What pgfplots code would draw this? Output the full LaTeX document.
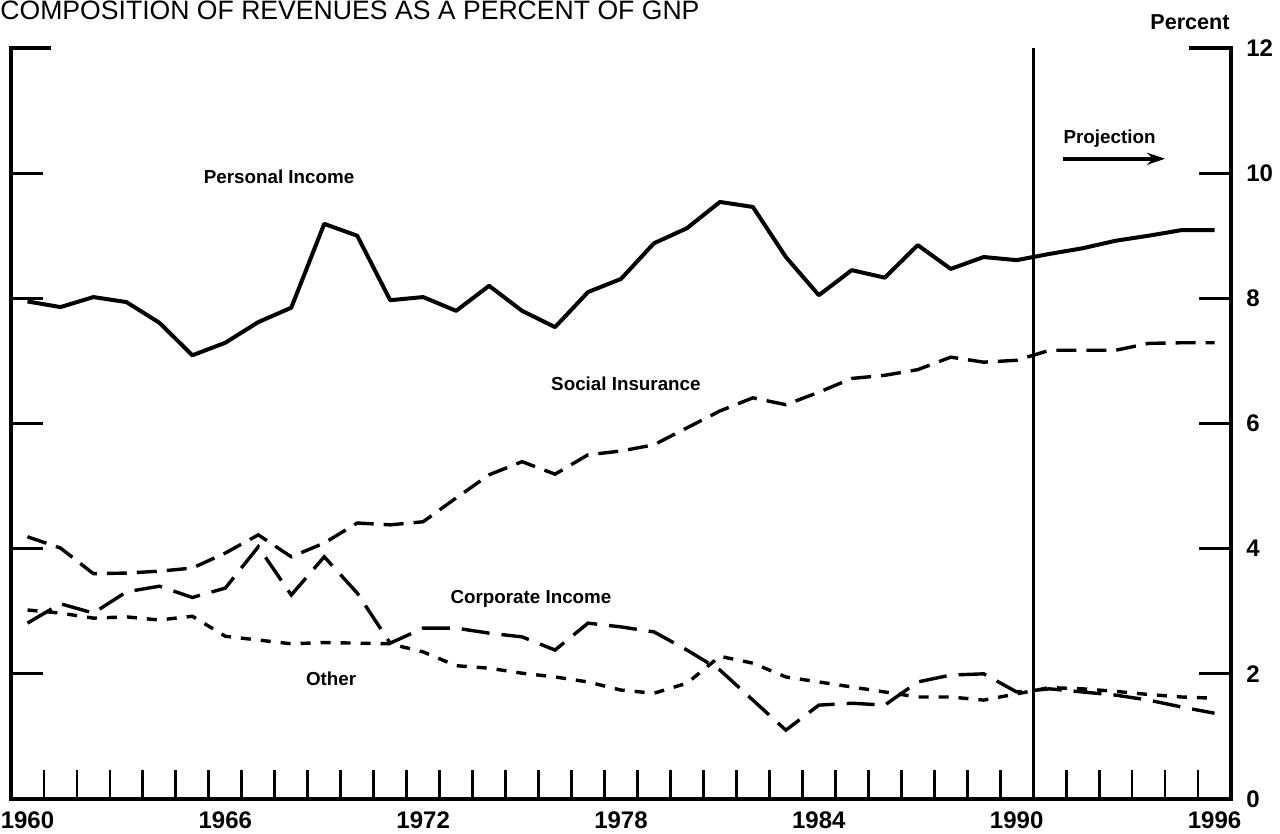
\documentclass[border=0pt]{standalone}
\usepackage{fontspec}
\setmainfont{Liberation Sans}
\usepackage{pgfplots}
\usepackage{pgfplotstable}
\pgfplotsset{compat=1.18}
\usetikzlibrary{arrows.meta}

\pgfplotstableread{
year PI SI CI OT
1960 7.95 4.19 2.81 3.02
1961 7.86 4.01 3.12 2.97
1962 8.02 3.60 2.97 2.89
1963 7.94 3.61 3.31 2.91
1964 7.61 3.64 3.40 2.86
1965 7.09 3.69 3.22 2.92
1966 7.29 3.93 3.37 2.60
1967 7.62 4.22 4.03 2.54
1968 7.85 3.87 3.26 2.48
1969 9.19 4.09 3.87 2.50
1970 9.00 4.41 3.29 2.49
1971 7.97 4.38 2.49 2.48
1972 8.02 4.43 2.73 2.35
1973 7.80 4.81 2.73 2.13
1974 8.20 5.18 2.65 2.09
1975 7.80 5.39 2.59 2.01
1976 7.54 5.19 2.38 1.95
1977 8.10 5.50 2.81 1.87
1978 8.31 5.56 2.75 1.74
1979 8.88 5.66 2.67 1.69
1980 9.12 5.93 2.38 1.85
1981 9.54 6.20 2.06 2.28
1982 9.46 6.41 1.58 2.17
1983 8.66 6.30 1.10 1.95
1984 8.05 6.50 1.50 1.87
1985 8.45 6.72 1.53 1.79
1986 8.33 6.77 1.50 1.71
1987 8.85 6.86 1.87 1.63
1988 8.47 7.06 1.98 1.63
1989 8.66 6.98 2.00 1.58
1990 8.61 7.01 1.71 1.68
1991 8.71 7.17 1.76 1.78
1992 8.80 7.17 1.71 1.76
1993 8.92 7.17 1.66 1.72
1994 9.00 7.28 1.58 1.67
1995 9.09 7.29 1.47 1.63
1996 9.09 7.29 1.37 1.61
}\data

\begin{document}
\begin{tikzpicture}
\begin{axis}[
  at={(0,0)}, anchor=south west,
  scale only axis,
  width=610pt, height=375.5pt,
  xmin=-0.5, xmax=36.5,
  ymin=0, ymax=12,
  axis x line=bottom,
  axis y line=right,
  axis line style={-, black, line width=1.6pt, line cap=rect},
  tick align=inside,
  tick style={black},
  xtick={0,6,12,18,24,30,36},
  xticklabels={1960,1966,1972,1978,1984,1990,1996},
  every major x tick/.style={draw=none},
  minor xtick={0.5,1.5,...,35.5},
  minor tick length=14.5pt,
  every minor x tick/.style={draw=black, line width=1.4pt},
  ytick={0,2,4,6,8,10,12},
  yticklabels={0,2,4,6,8,10,12},
  major tick length=16pt,
  every major y tick/.style={draw=black, line width=1.6pt},
  xticklabel style={font=\fontsize{12}{14}\selectfont\bfseries, anchor=north, inner sep=0pt, yshift=-6pt},
  yticklabel style={font=\fontsize{12}{14}\selectfont\bfseries, anchor=west, inner sep=0pt, xshift=7.5pt},
  clip=false,
]
\addplot[black, line width=2pt, line join=round] table[x expr=\thisrow{year}-1960, y=PI] {\data};
\addplot[black, line width=1.7pt, dash pattern=on 10pt off 5pt] table[x expr=\thisrow{year}-1960, y=SI] {\data};
\addplot[black, line width=1.7pt, dash pattern=on 14pt off 6pt] table[x expr=\thisrow{year}-1960, y=CI] {\data};
\addplot[black, line width=1.7pt, dash pattern=on 5pt off 5pt] table[x expr=\thisrow{year}-1960, y=OT] {\data};

% left axis line and ticks
\draw[line width=1.6pt, line cap=rect] (axis cs:-0.5,0) -- (axis cs:-0.5,12);
\draw[line width=1.6pt] (axis cs:-0.5,2) -- (axis cs:0.47,2);
\draw[line width=1.6pt] (axis cs:-0.5,4) -- (axis cs:0.47,4);
\draw[line width=1.6pt] (axis cs:-0.5,6) -- (axis cs:0.47,6);
\draw[line width=1.6pt] (axis cs:-0.5,8) -- (axis cs:0.47,8);
\draw[line width=1.6pt] (axis cs:-0.5,10) -- (axis cs:0.47,10);
\draw[line width=1.6pt] (axis cs:-0.5,12) -- (axis cs:0.71,12);
\draw[line width=1.6pt] (axis cs:36.5,12) -- (axis cs:35.23,12);
% projection line
\draw[line width=1.5pt] (axis cs:30.5,0) -- (axis cs:30.5,12);
\draw[line width=2pt, -{Stealth[length=9pt,width=6pt]}] (axis cs:31.41,10.23) -- (axis cs:34.5,10.23);

\node[anchor=base, inner sep=0pt, font=\fontsize{9.4}{11}\selectfont\bfseries] at (axis cs:7.63,9.84) {Personal Income};
\node[anchor=base, inner sep=0pt, font=\fontsize{9.4}{11}\selectfont\bfseries] at (axis cs:18.15,6.52) {Social Insurance};
\node[anchor=base, inner sep=0pt, font=\fontsize{9.4}{11}\selectfont\bfseries] at (axis cs:15.27,3.13) {Corporate Income};
\node[anchor=base, inner sep=0pt, font=\fontsize{9.4}{11}\selectfont\bfseries] at (axis cs:9.21,1.82) {Other};
\node[anchor=base west, inner sep=0pt, font=\fontsize{9.4}{11}\selectfont\bfseries] at (axis cs:31.41,10.47) {Projection};
\end{axis}
\node[anchor=base west, inner sep=0pt, font=\fontsize{13.3}{15}\selectfont] at (-5.5pt,389.5pt) {COMPOSITION OF REVENUES AS A PERCENT OF GNP};
\node[anchor=base east, inner sep=0pt, font=\fontsize{10.8}{13}\selectfont\bfseries] at (609.5pt,384.5pt) {Percent};
\pgfresetboundingbox
\path[use as bounding box] (-5.5pt,-17.5pt) rectangle (634.5pt,399.5pt);
\end{tikzpicture}
\end{document}
